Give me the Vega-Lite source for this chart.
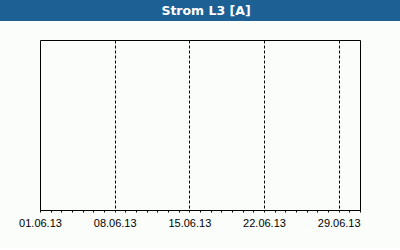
{
  "$schema": "https://vega.github.io/schema/vega-lite/v6.json",
  "background": "#fbfdfb",
  "padding": {"left": 0, "top": 0, "right": 0, "bottom": 20},
  "spacing": 19,
  "bounds": "flush",
  "center": true,
  "config": {
    "view": {"stroke": null},
    "font": "Liberation Sans",
    "axis": {"domainColor": "black", "tickColor": "black", "labelColor": "black", "domainWidth": 1}
  },
  "vconcat": [
    {
      "width": 400,
      "height": 21,
      "view": {"fill": "#1d6094", "stroke": null},
      "data": {"values": [{"title": "Strom L3 [A]"}]},
      "mark": {"type": "text", "color": "white", "fontWeight": "bold", "fontSize": 12.5, "font": "DejaVu Sans", "baseline": "middle", "dx": 6, "dy": 0},
      "encoding": {"text": {"field": "title", "type": "nominal"}}
    },
    {
      "width": 320,
      "height": 170,
      "data": {"values": [
        {"datum": "2013-06-01", "strom": null},
        {"datum": "2013-07-01", "strom": null}
      ]},
      "resolve": {"axis": {"x": "independent", "y": "independent"}},
      "layer": [
        {
          "mark": {"type": "line", "color": "#1d6094"},
          "encoding": {
            "x": {
              "field": "datum", "type": "temporal",
              "scale": {"domain": [{"year": 2013, "month": 6, "date": 1}, {"year": 2013, "month": 7, "date": 1}], "nice": false},
              "axis": {
                "title": null,
                "orient": "bottom",
                "tickCount": {"interval": "day", "step": 1},
                "tickSize": 2,
                "labelFlush": false,
                "labelOverlap": false,
                "labelFont": "Liberation Sans",
                "labelFontSize": 11,
                "labelPadding": 5,
                "labelExpr": "(month(datum.value) == 5 && day(datum.value) == 6) ? timeFormat(datum.value, '%d.%m.%y') : ''",
                "grid": true,
                "gridColor": "black",
                "gridDash": [3, 2],
                "gridOpacity": {"condition": {"test": "month(datum.value) == 5 && day(datum.value) == 6 && date(datum.value) > 1", "value": 1}, "value": 0}
              }
            },
            "y": {
              "field": "strom", "type": "quantitative",
              "scale": {"domain": [0, 1]},
              "axis": {"title": null, "orient": "left", "labels": false, "ticks": false, "grid": false}
            }
          }
        },
        {
          "mark": {"type": "line", "color": "#1d6094"},
          "encoding": {
            "x": {
              "field": "datum", "type": "temporal",
              "axis": {"title": null, "orient": "top", "labels": false, "ticks": false, "grid": false}
            },
            "y": {
              "field": "strom", "type": "quantitative",
              "axis": {"title": null, "orient": "right", "labels": false, "ticks": false, "grid": false}
            }
          }
        }
      ]
    }
  ]
}
